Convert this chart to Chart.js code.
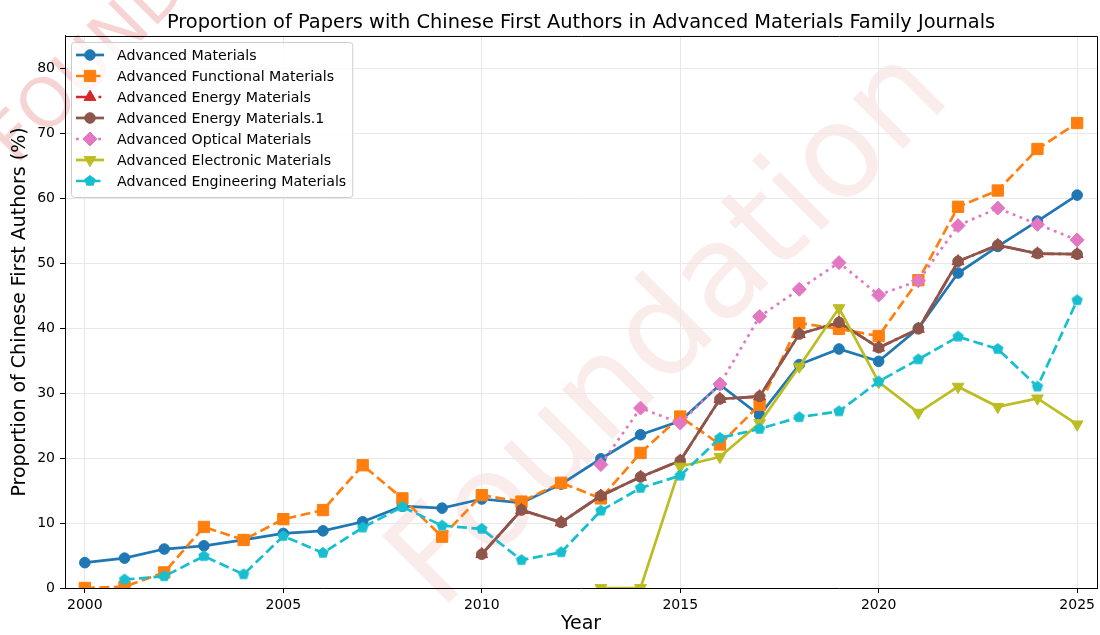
<!DOCTYPE html>
<html>
<head>
<meta charset="utf-8">
<script src="https://cdn.jsdelivr.net/npm/chart.js@4.4.1/dist/chart.umd.min.js"></script>
<style>
  html, body { margin: 0; padding: 0; background: #fff; }
  #wrap { width: 1100px; height: 635px; }
</style>
</head>
<body>
<div id="wrap"><canvas id="graficoProporcion" width="1100" height="635"></canvas></div>
<script>
// datos (null = sin dato ese año)
const years = [2000, 2001, 2002, 2003, 2004, 2005, 2006, 2007, 2008, 2009, 2010, 2011, 2012,
  2013, 2014, 2015, 2016, 2017, 2018, 2019, 2020, 2021, 2022, 2023, 2024, 2025];
const xTicks = [2000, 2005, 2010, 2015, 2020, 2025];
const yTicks = [0, 10, 20, 30, 40, 50, 60, 70, 80];

const seriesNames = [
  'Advanced Materials',
  'Advanced Functional Materials',
  'Advanced Energy Materials',
  'Advanced Energy Materials.1',
  'Advanced Optical Materials',
  'Advanced Electronic Materials',
  'Advanced Engineering Materials'
];

const advMaterials = [3.9, 4.6, 6.0, 6.5, 7.4, 8.4, 8.8, 10.2, 12.6, 12.3, 13.7, 13.1, 16.0,
  19.9, 23.6, 25.7, 31.3, 26.6, 34.4, 36.8, 34.9, 40.0, 48.5, 52.6, 56.5, 60.5];
const funcMaterials = [0.0, 0.2, 2.4, 9.4, 7.4, 10.6, 12.0, 18.9, 13.8, 7.9, 14.3, 13.3, 16.2,
  13.8, 20.8, 26.4, 22.1, 28.2, 40.8, 39.9, 38.8, 47.4, 58.7, 61.2, 67.6, 71.6];
const energyMaterials = [null, null, null, null, null, null, null, null, null, null, 5.2, 12.0, 10.1,
  14.2, 17.1, 19.6, 29.1, 29.5, 39.1, 40.9, 37.0, 39.9, 50.3, 52.8, 51.5, 51.4];
const energyMaterials1 = [null, null, null, null, null, null, null, null, null, null, 5.2, 12.0, 10.1,
  14.2, 17.1, 19.6, 29.1, 29.5, 39.1, 40.9, 37.0, 39.9, 50.3, 52.8, 51.5, 51.4];
const opticalMaterials = [null, null, null, null, null, null, null, null, null, null, null, null, null,
  19.0, 27.7, 25.4, 31.4, 41.8, 46.0, 50.1, 45.1, 47.3, 55.8, 58.5, 56.0, 53.6];
const electronicMaterials = [null, null, null, null, null, null, null, null, null, null, null, null, null,
  0.0, 0.0, 18.7, 20.2, 25.4, 34.1, 43.1, 31.7, 27.0, 31.0, 27.9, 29.2, 25.2];
const engMaterials = [null, 1.3, 1.8, 4.9, 2.1, 8.0, 5.4, 9.3, 12.5, 9.6, 9.1, 4.3, 5.5,
  11.9, 15.4, 17.3, 23.1, 24.5, 26.3, 27.2, 31.8, 35.2, 38.7, 36.8, 31.0, 44.3];

const seriesValues = [advMaterials, funcMaterials, energyMaterials, energyMaterials1,
  opticalMaterials, electronicMaterials, engMaterials];

// pentagono para Advanced Engineering Materials (Chart.js no lo trae)
function hacerPentagono(color, r) {
  const c = document.createElement('canvas');
  const s = Math.ceil(r * 2 + 2);
  c.width = s; c.height = s;
  const g = c.getContext('2d');
  g.fillStyle = color;
  g.beginPath();
  for (let k = 0; k < 5; k++) {
    const a = -Math.PI / 2 + k * 2 * Math.PI / 5;
    const px = s / 2 + r * Math.cos(a), py = s / 2 + r * Math.sin(a);
    if (k === 0) g.moveTo(px, py); else g.lineTo(px, py);
  }
  g.closePath();
  g.fill();
  return c;
}

const estilos = [
  { color: '#1f77b4', dash: [], point: 'circle', radius: 5.3, rot: 0 },
  { color: '#ff7f0e', dash: [10, 4.5], point: 'rect', radius: 8, rot: 0 },
  { color: '#d62728', dash: [18, 4.5, 2.8, 4.5], point: 'triangle', radius: 6.8, rot: 0 },
  { color: '#8c564b', dash: [], point: 'circle', radius: 5.3, rot: 0 },
  { color: '#e377c2', dash: [2.8, 4.6], point: 'rectRot', radius: 7, rot: 0 },
  { color: '#bcbd22', dash: [], point: 'triangle', radius: 6.8, rot: 180 },
  { color: '#17becf', dash: [10, 4.5], point: hacerPentagono('#17becf', 6), radius: 6, rot: 0 }
];

const datasets = seriesNames.map((name, i) => ({
  label: name,
  data: years.map((yr, j) => ({ x: yr, y: seriesValues[i][j] })),
  borderColor: estilos[i].color,
  backgroundColor: estilos[i].color,
  borderWidth: 2.7,
  borderDash: estilos[i].dash,
  pointStyle: estilos[i].point,
  pointRadius: estilos[i].radius,
  pointRotation: estilos[i].rot,
  pointBackgroundColor: estilos[i].color,
  pointBorderColor: estilos[i].color,
  pointBorderWidth: 1,
  tension: 0,
  spanGaps: false,
  order: seriesNames.length - i
}));

const fuente = '"DejaVu Sans", "Liberation Sans", sans-serif';

// marca de agua de fondo
const marcaAgua = {
  id: 'marcaAgua',
  beforeDraw(chart) {
    const ctx = chart.ctx;
    ctx.save();
    ctx.fillStyle = 'rgba(214, 39, 40, 0.085)';
    ctx.font = '130px ' + fuente;
    ctx.translate(440, 612);
    ctx.rotate(-Math.PI / 4);
    ctx.fillText('Foundation', 0, 0);
    ctx.restore();

    ctx.save();
    ctx.fillStyle = 'rgba(214, 39, 40, 0.2)';
    ctx.font = '68px ' + fuente;
    ctx.translate(16, 166);
    ctx.rotate(-Math.PI / 4);
    ctx.fillText('FOUNDATION', 0, 0);
    ctx.restore();
  }
};

// marco completo y leyenda al estilo matplotlib
const marcoLeyenda = {
  id: 'marcoLeyenda',
  afterDraw(chart) {
    const ctx = chart.ctx;
    const a = chart.chartArea;
    ctx.save();
    ctx.strokeStyle = '#000';
    ctx.lineWidth = 1;
    ctx.beginPath();
    ctx.moveTo(a.left, a.top + 0.5);
    ctx.lineTo(a.right + 0.5, a.top + 0.5);
    ctx.lineTo(a.right + 0.5, a.bottom);
    ctx.stroke();

    ctx.font = '14.2px ' + fuente;
    let maxW = 0;
    seriesNames.forEach(n => { maxW = Math.max(maxW, ctx.measureText(n).width); });
    const x0 = a.left + 6, y0 = a.top + 6;
    const w = 46 + maxW + 6, h = 155;
    ctx.beginPath();
    ctx.roundRect(x0 + 0.5, y0 + 0.5, w, h, 3);
    ctx.fillStyle = 'rgba(255,255,255,0.8)';
    ctx.fill();
    ctx.strokeStyle = '#cccccc';
    ctx.stroke();

    seriesNames.forEach((n, i) => {
      const cy = y0 + 13 + i * 21;
      const st = estilos[i];
      ctx.save();
      ctx.strokeStyle = st.color;
      ctx.fillStyle = st.color;
      ctx.lineWidth = 2.7;
      ctx.setLineDash(st.dash);
      ctx.beginPath();
      ctx.moveTo(x0 + 5, cy);
      ctx.lineTo(x0 + 33, cy);
      ctx.stroke();
      ctx.setLineDash([]);
      ctx.lineWidth = 1;
      Chart.helpers.drawPoint(ctx, {
        pointStyle: st.point, rotation: st.rot, radius: st.radius, borderWidth: 1
      }, x0 + 19, cy);
      ctx.restore();
      ctx.fillStyle = '#000';
      ctx.textBaseline = 'middle';
      ctx.textAlign = 'left';
      ctx.fillText(n, x0 + 46, cy + 1);
    });
    ctx.restore();
  }
};

Chart.defaults.color = '#000';
Chart.defaults.font.family = fuente;

const ctx = document.getElementById('graficoProporcion').getContext('2d');
window.graficoProporcion = new Chart(ctx, {
  type: 'line',
  data: { datasets: datasets },
  plugins: [marcaAgua, marcoLeyenda],
  options: {
    responsive: false,
    animation: false,
    devicePixelRatio: 1,
    layout: { autoPadding: false, padding: { left: 0, right: 3, top: 0, bottom: 0 } },
    plugins: {
      legend: { display: false },
      tooltip: { enabled: false },
      title: {
        display: true,
        fullSize: false,
        text: 'Proportion of Papers with Chinese First Authors in Advanced Materials Family Journals',
        color: '#000',
        font: { size: 19.4, weight: 'normal' },
        padding: { top: 11, bottom: 1.7 }
      }
    },
    scales: {
      x: {
        type: 'linear',
        min: 1999.5,
        max: 2025.5,
        afterBuildTicks: scale => { scale.ticks = xTicks.map(v => ({ value: v })); },
        afterFit: scale => { scale.height = 47; scale.paddingLeft = 0; scale.paddingRight = 0; },
        ticks: { font: { size: 14 }, padding: 4, maxRotation: 0, callback: v => String(v) },
        grid: { color: '#e8e8e8', tickColor: '#000', tickLength: 5, lineWidth: 1 },
        border: { display: true, color: '#000', width: 1 },
        title: { display: true, text: 'Year', font: { size: 19 }, padding: { top: 0, bottom: 0 } }
      },
      y: {
        min: 0,
        max: 85,
        afterBuildTicks: scale => { scale.ticks = yTicks.map(v => ({ value: v })); },
        afterFit: scale => { scale.width = 65; },
        ticks: { font: { size: 14 }, padding: 5 },
        grid: { color: '#e8e8e8', tickColor: '#000', tickLength: 5, lineWidth: 1 },
        border: { display: true, color: '#000', width: 1 },
        title: {
          display: true, text: 'Proportion of Chinese First Authors (%)',
          font: { size: 19 }, padding: { top: 8.5, bottom: 0 }
        }
      }
    }
  }
});
</script>
</body>
</html>
